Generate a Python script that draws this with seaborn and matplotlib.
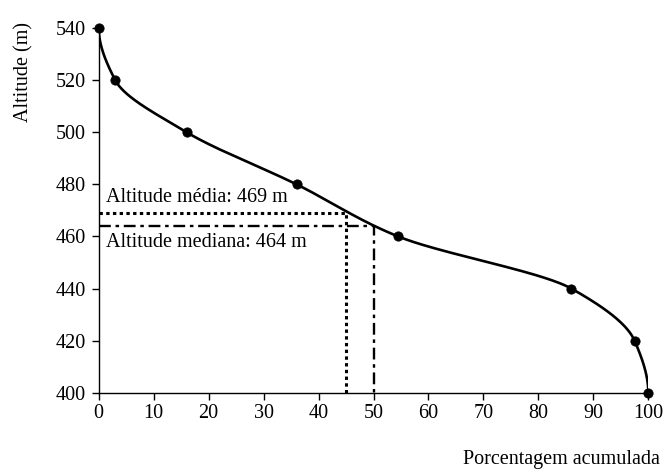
import numpy as np
import pandas as pd
import matplotlib
matplotlib.use("Agg")
import matplotlib.pyplot as plt
import seaborn as sns

# ---- data ----
pct_acum = [0, 3, 16, 36, 54.5, 86, 97.5, 100]
altitude = [540, 520, 500, 480, 460, 440, 420, 400]
alt_media = 469
pct_media = 45
alt_mediana = 464
pct_mediana = 50
x_ticks = [0, 10, 20, 30, 40, 50, 60, 70, 80, 90, 100]
y_ticks = [400, 420, 440, 460, 480, 500, 520, 540]

sns.set_theme(style="ticks")
plt.rcParams['font.family'] = ['Liberation Serif', 'DejaVu Serif']
plt.rcParams['text.color'] = 'black'
plt.rcParams['axes.labelcolor'] = 'black'

df = pd.DataFrame({"pct": pct_acum, "alt": altitude})


def pchip(xk, yk, xq):
    xk = np.asarray(xk, float); yk = np.asarray(yk, float)
    h = np.diff(xk); d = np.diff(yk) / h
    n = len(xk); m = np.zeros(n)
    for i in range(1, n - 1):
        if d[i - 1] * d[i] > 0:
            w1 = 2 * h[i] + h[i - 1]; w2 = h[i] + 2 * h[i - 1]
            m[i] = (w1 + w2) / (w1 / d[i - 1] + w2 / d[i])
    m[0] = ((2 * h[0] + h[1]) * d[0] - h[0] * d[1]) / (h[0] + h[1])
    if np.sign(m[0]) != np.sign(d[0]): m[0] = 0
    m[-1] = ((2 * h[-1] + h[-2]) * d[-1] - h[-1] * d[-2]) / (h[-1] + h[-2])
    if np.sign(m[-1]) != np.sign(d[-1]): m[-1] = 0
    idx = np.clip(np.searchsorted(xk, xq) - 1, 0, n - 2)
    t = (xq - xk[idx]) / h[idx]
    h00 = 2 * t**3 - 3 * t**2 + 1; h10 = t**3 - 2 * t**2 + t
    h01 = -2 * t**3 + 3 * t**2; h11 = t**3 - t**2
    return (h00 * yk[idx] + h10 * h[idx] * m[idx] + h01 * yk[idx + 1]
            + h11 * h[idx] * m[idx + 1])


FS = 14.5
fig = plt.figure(figsize=(6.67, 4.75), dpi=100)
ax = fig.add_axes([0.148, 0.173, 0.824, 0.768])

# smooth rendering of the curve through the data points (x as function of altitude)
alt_sorted = df.sort_values("alt")
yy = np.linspace(min(altitude), max(altitude), 400)
xx = pchip(alt_sorted["alt"].values, alt_sorted["pct"].values, yy)
ax.plot(xx, yy, color="black", lw=1.9, zorder=3)
sns.scatterplot(data=df, x="pct", y="alt", color="black", s=45, edgecolor="black",
                ax=ax, zorder=4, clip_on=False)

# mean and median guide lines
ax.plot([0, pct_media, pct_media], [alt_media, alt_media, 400], color="black",
        lw=2.2, linestyle=(0, (1.1, 1.1)), zorder=2)
ax.plot([0, pct_mediana, pct_mediana], [alt_mediana, alt_mediana, 400], color="black",
        lw=1.7, linestyle=(0, (5, 2, 1.5, 2)), zorder=2)

ax.text(1.4, 471.3, f"Altitude média: {alt_media} m", fontsize=FS, va="bottom", color="black")
ax.text(1.4, 461.3, f"Altitude mediana: {alt_mediana} m", fontsize=FS, va="top", color="black")

ax.set_xlim(0, 100)
ax.set_ylim(400, 540)
ax.set_xticks(x_ticks)
ax.set_yticks(y_ticks)
ax.tick_params(labelsize=FS, direction="out", length=5, width=1, colors="black")
ax.tick_params(axis="x", pad=3)
ax.tick_params(axis="y", pad=4)
for s in ["top", "right"]:
    ax.spines[s].set_visible(False)
for s in ["left", "bottom"]:
    ax.spines[s].set_color("black")
    ax.spines[s].set_linewidth(1)

ax.set_xlabel("")
ax.set_ylabel("Altitude (m)", fontsize=FS, color="black")
ax.yaxis.set_label_coords(-0.118, 0.88)
fig.text(0.99, 0.012, "Porcentagem acumulada", fontsize=FS, ha="right", va="bottom", color="black")

fig.savefig("out.png", dpi=100)
